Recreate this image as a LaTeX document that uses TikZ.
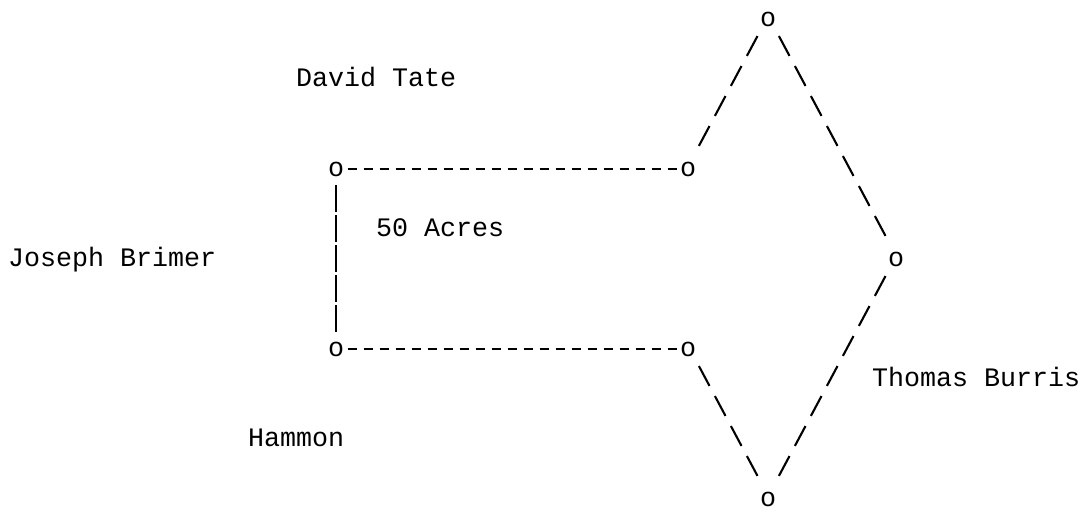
\documentclass[tikz,border=0pt]{standalone}
\usepackage{fontspec}
\setmonofont{Liberation Mono}
\usepackage{tikz}
\tikzstyle{plat} = [inner sep=0pt, anchor=base west, font=\ttfamily\fontsize{26.67}{30}\selectfont]
\tikzstyle{hfence} = [line width=2.1pt, dash pattern=on 9pt off 7pt, shorten <=11.5pt, shorten >=11.5pt]
\tikzstyle{vfence} = [line width=2.1pt, dash pattern=on 27pt off 3pt, shorten <=16.5pt, shorten >=16.5pt]
\tikzstyle{dfence} = [line width=2.1pt, dash pattern=on 22.5pt off 11.5pt, shorten <=22.75pt, shorten >=22.75pt]

\begin{document}
\begin{tikzpicture}[x=16pt, y=-30pt]
  \useasboundingbox (-0.5,-0.867) rectangle (67.125,16.267);
  % corners of the tract
  \node(apex)[plat] at (47,0) {o};
  \node(tl)[plat] at (20,5) {o};
  \node(tr)[plat] at (42,5) {o};
  \node(east)[plat] at (55,8) {o};
  \node(bl)[plat] at (20,11) {o};
  \node(br)[plat] at (42,11) {o};
  \node(bot)[plat] at (47,16) {o};
  % neighbours
  \node(tate)[plat] at (18,2) {David Tate};
  \node(acres)[plat] at (23,7) {50 Acres};
  \node(brimer)[plat] at (0,8) {Joseph Brimer};
  \node(burris)[plat] at (54,12) {Thomas Burris};
  \node(hammon)[plat] at (15,14) {Hammon};
  % lines
  \draw[hfence] (tl.center) -- (tr.center);
  \draw[hfence] (bl.center) -- (br.center);
  \draw[vfence] (tl.center) -- (bl.center);
  \draw[dfence] ([yshift=3pt]tr.center) -- ([yshift=3pt]apex.center);
  \draw[dfence] ([yshift=3pt]apex.center) -- ([yshift=3pt]east.center);
  \draw[dfence] ([yshift=3pt]east.center) -- ([yshift=3pt]bot.center);
  \draw[dfence] ([yshift=3pt]br.center) -- ([yshift=3pt]bot.center);
\end{tikzpicture}
\end{document}
